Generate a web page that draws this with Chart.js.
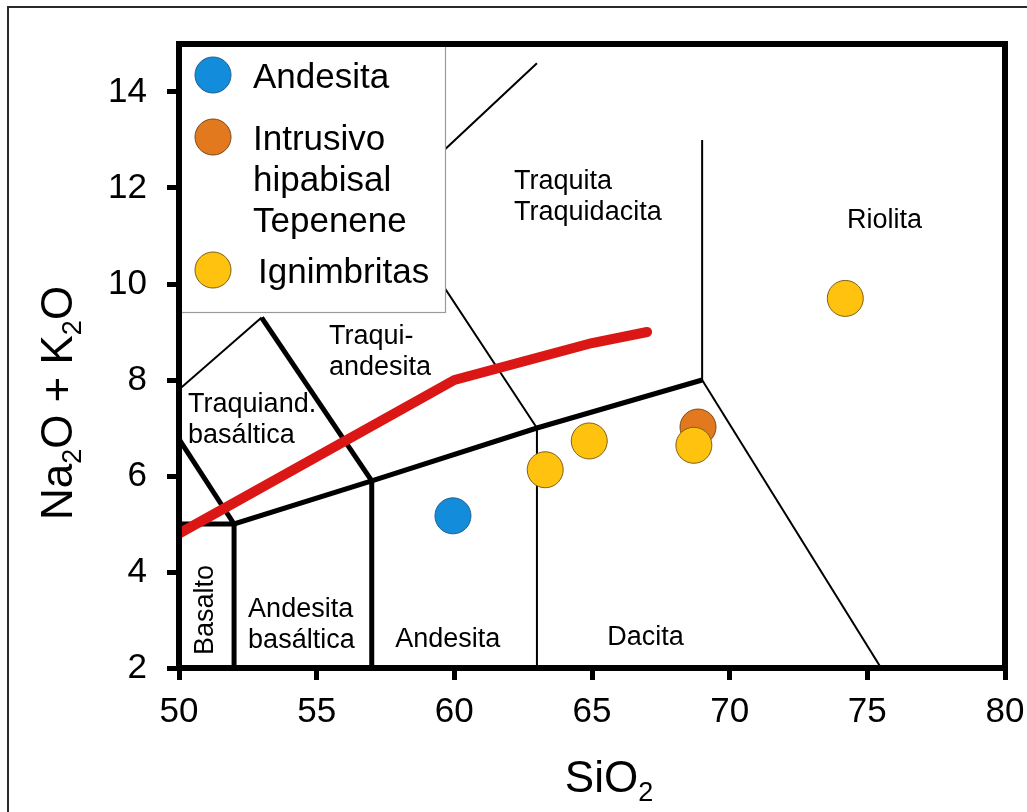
<!DOCTYPE html>
<html>
<head>
<meta charset="utf-8">
<title>Diagrama TAS</title>
<script src="https://cdn.jsdelivr.net/npm/chart.js@4.4.1/dist/chart.umd.min.js"></script>
<style>
  html, body { margin: 0; padding: 0; background: #fff; }
  #wrap { position: relative; width: 1027px; height: 812px; }
</style>
</head>
<body>
<div id="wrap"><canvas id="tas"></canvas></div>
<script>
// ---- axis ticks ----
const xTicks = [50, 55, 60, 65, 70, 75, 80];
const yTicks = [2, 4, 6, 8, 10, 12, 14];

// ---- samples (SiO2, Na2O + K2O) ----
const andesita    = [[59.95, 5.17]];
const intrusivo   = [[68.85, 7.02]];
const ignimbritas = [[63.3, 6.13], [64.9, 6.73], [68.7, 6.64], [74.2, 9.7]];

// ---- alkaline / subalkaline divide ----
const divide = [[50, 4.8], [60, 8.0], [65, 8.77], [67, 9.0]];

// ---- field boundaries (heavy) ----
const bMain      = [[50, 5], [52, 5], [57, 5.9], [63, 7], [69, 8]];
const bBasalt    = [[52, 2], [52, 5]];
const bBasAnd    = [[57, 2], [57, 5.9]];
const bTrachyBas = [[50, 6.77], [52, 5]];
const bTrachyAnd = [[53, 9.3], [57, 5.9]];

// ---- field boundaries (light) ----
const bUpperLeft = [[50, 7.8], [53, 9.3]];
const bAndDac    = [[63, 2], [63, 7]];
const bTrachyte  = [[63, 7], [57.6, 11.7], [63, 14.6]];
const bRhyolite  = [[69, 8], [69, 13]];
const bDacRhy    = [[69, 8], [75.5, 2]];

// ---- field names ----
const fieldNames = [
  { lines: ['Traquita', 'Traquidacita'], x: 62.17, y: 11.97, align: 'left' },
  { lines: ['Riolita'], x: 75.62, y: 11.17, align: 'center' },
  { lines: ['Traqui-', 'andesita'], x: 55.45, y: 8.76, align: 'left' },
  { lines: ['Traquiand.', 'basáltica'], x: 50.33, y: 7.34, align: 'left' },
  { lines: ['Andesita', 'basáltica'], x: 52.51, y: 3.06, align: 'left' },
  { lines: ['Andesita'], x: 57.85, y: 2.44, align: 'left' },
  { lines: ['Dacita'], x: 65.55, y: 2.48, align: 'left' },
  { lines: ['Basalto'], x: 51.24, y: 2.27, align: 'left', vertical: true }
];

const legendItems = [
  { lines: ['Andesita'], fill: '#138ddb', stroke: '#1f5f8c' },
  { lines: ['Intrusivo', 'hipabisal', 'Tepenene'], fill: '#e2791f', stroke: '#7a4a1a' },
  { lines: ['Ignimbritas'], fill: '#ffc20e', stroke: '#7d6015' }
];

const FONT = '"Liberation Sans", Arial, Helvetica, sans-serif';
const pts = arr => arr.map(p => ({ x: p[0], y: p[1] }));

function boundary(arr, width) {
  return {
    data: pts(arr), showLine: true, pointRadius: 0, pointHoverRadius: 0,
    borderColor: '#000', borderWidth: width, borderJoinStyle: 'miter',
    borderCapStyle: 'butt', fill: false, order: 10
  };
}
function samples(arr, item, order) {
  return {
    data: pts(arr), showLine: false, pointRadius: 18, pointHoverRadius: 18,
    backgroundColor: item.fill, borderColor: item.stroke, borderWidth: 1, order: order
  };
}

// text made of normal and subscript runs
function runsWidth(ctx, runs, big, small) {
  let w = 0;
  runs.forEach(r => { ctx.font = (r[1] ? small : big) + 'px ' + FONT; w += ctx.measureText(r[0]).width; });
  return w;
}
function drawRuns(ctx, runs, x, y, big, small, drop) {
  let cx = x;
  runs.forEach(r => {
    ctx.font = (r[1] ? small : big) + 'px ' + FONT;
    ctx.fillText(r[0], cx, y + (r[1] ? drop : 0));
    cx += ctx.measureText(r[0]).width;
  });
}

const decor = {
  id: 'decor',
  beforeDraw(chart) {
    const ctx = chart.ctx;
    ctx.save();
    ctx.strokeStyle = '#2a2a2a';
    ctx.lineWidth = 2;
    ctx.beginPath();
    ctx.moveTo(8, 812);
    ctx.lineTo(8, 7);
    ctx.lineTo(1027, 7);
    ctx.stroke();
    ctx.restore();
  },
  afterDatasetsDraw(chart) {
    const ctx = chart.ctx, a = chart.chartArea;
    const xs = chart.scales.x, ys = chart.scales.y;
    ctx.save();
    ctx.fillStyle = '#000';
    ctx.font = '27px ' + FONT;
    ctx.textBaseline = 'alphabetic';
    fieldNames.forEach(f => {
      const px = xs.getPixelForValue(f.x), py = ys.getPixelForValue(f.y);
      if (f.vertical) {
        ctx.save();
        ctx.translate(px, py);
        ctx.rotate(-Math.PI / 2);
        ctx.textAlign = 'left';
        ctx.fillText(f.lines[0], 0, 0);
        ctx.restore();
      } else {
        ctx.textAlign = f.align;
        f.lines.forEach((t, i) => ctx.fillText(t, px, py + i * 31));
      }
    });

    // legend box
    const lx = a.left, ly = a.top, lw = 445 - a.left, lh = 312 - a.top;
    ctx.fillStyle = '#fff';
    ctx.fillRect(lx, ly, lw, lh);
    ctx.strokeStyle = '#9a9a9a';
    ctx.lineWidth = 1.2;
    ctx.strokeRect(lx + 0.5, ly + 0.5, lw, lh);
    const rows = [75, 137, 270];
    const textX = [253, 253, 258];
    ctx.font = '35px ' + FONT;
    ctx.textAlign = 'left';
    legendItems.forEach((it, i) => {
      ctx.beginPath();
      ctx.arc(213, rows[i], 18, 0, Math.PI * 2);
      ctx.fillStyle = it.fill;
      ctx.fill();
      ctx.lineWidth = 1;
      ctx.strokeStyle = it.stroke;
      ctx.stroke();
      ctx.fillStyle = '#000';
      it.lines.forEach((t, j) => ctx.fillText(t, textX[i], rows[i] + 12.5 + j * 41));
    });

    // plot frame
    ctx.strokeStyle = '#000';
    ctx.lineWidth = 6;
    ctx.lineJoin = 'miter';
    ctx.strokeRect(a.left, a.top, a.right - a.left, a.bottom - a.top);
    ctx.restore();
  },
  afterDraw(chart) {
    const ctx = chart.ctx;
    ctx.save();
    ctx.fillStyle = '#000';
    ctx.textAlign = 'left';
    ctx.textBaseline = 'alphabetic';
    // x title
    const xr = [['SiO', false], ['2', true]];
    const xw = runsWidth(ctx, xr, 44, 27);
    drawRuns(ctx, xr, 609 - xw / 2, 792, 44, 27, 9);
    // y title
    const yr = [['Na', false], ['2', true], ['O + K', false], ['2', true], ['O', false]];
    const yw = runsWidth(ctx, yr, 44, 27);
    ctx.translate(72, 403 + yw / 2);
    ctx.rotate(-Math.PI / 2);
    drawRuns(ctx, yr, 0, 0, 44, 27, 9);
    ctx.restore();
  }
};

new Chart(document.getElementById('tas'), {
  type: 'scatter',
  data: {
    datasets: [
      boundary(bMain, 5), boundary(bBasalt, 5), boundary(bBasAnd, 5),
      boundary(bTrachyBas, 5), boundary(bTrachyAnd, 5),
      boundary(bUpperLeft, 2), boundary(bAndDac, 2), boundary(bTrachyte, 2),
      boundary(bRhyolite, 2), boundary(bDacRhy, 2),
      {
        data: pts(divide), showLine: true, pointRadius: 0, pointHoverRadius: 0,
        borderColor: '#da1714', borderWidth: 10, borderJoinStyle: 'round',
        borderCapStyle: 'round', fill: false, order: 5
      },
      samples(andesita, legendItems[0], 3),
      samples(intrusivo, legendItems[1], 2),
      samples(ignimbritas, legendItems[2], 1)
    ]
  },
  options: {
    responsive: true,
    maintainAspectRatio: false,
    animation: false,
    devicePixelRatio: 1,
    layout: { padding: { top: 44, right: 22, left: 0, bottom: 0 } },
    plugins: { legend: { display: false }, tooltip: { enabled: false } },
    events: [],
    scales: {
      x: {
        type: 'linear', min: 50, max: 80,
        afterBuildTicks: s => { s.ticks = xTicks.map(v => ({ value: v })); },
        afterFit: s => { s.height = 144; s.paddingLeft = 0; s.paddingRight = 0; },
        grid: { display: true, drawOnChartArea: false, drawTicks: true, tickLength: 12, tickWidth: 5, tickColor: '#000', color: '#000' },
        border: { display: false },
        ticks: { font: { family: FONT, size: 35 }, color: '#000', padding: 11, maxRotation: 0, autoSkip: false, callback: v => String(v) }
      },
      y: {
        type: 'linear', min: 2, max: 15,
        afterBuildTicks: s => { s.ticks = yTicks.map(v => ({ value: v })); },
        afterFit: s => { s.width = 179; s.paddingTop = 0; s.paddingBottom = 0; },
        grid: { display: true, drawOnChartArea: false, drawTicks: true, tickLength: 12, tickWidth: 5, tickColor: '#000', color: '#000' },
        border: { display: false },
        ticks: { font: { family: FONT, size: 35 }, color: '#000', padding: 20, autoSkip: false, callback: v => String(v) }
      }
    }
  },
  plugins: [decor]
});
</script>
</body>
</html>
